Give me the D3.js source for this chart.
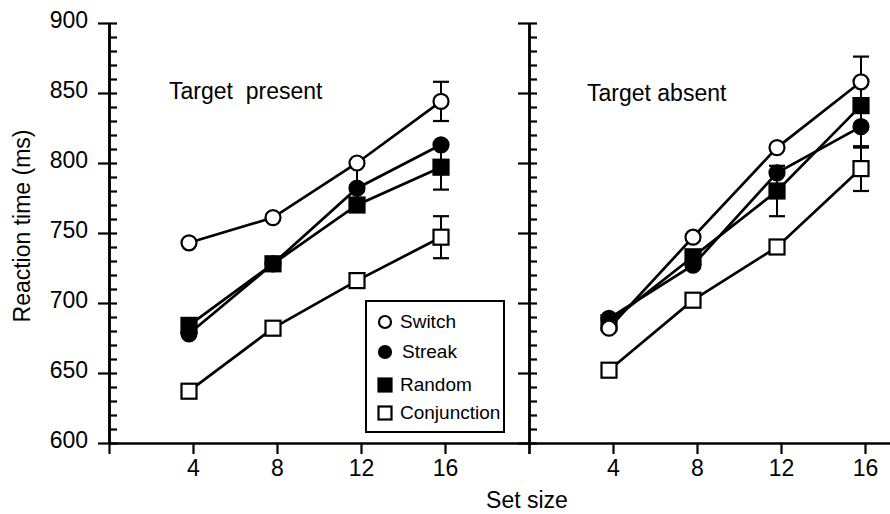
<!DOCTYPE html>
<html>
<head>
<meta charset="utf-8">
<script src="https://cdn.jsdelivr.net/npm/d3@7"></script>
<style>
  body { margin: 0; background: #fff; }
  svg { display: block; font-family: "Liberation Sans", Arial, Helvetica, sans-serif; }
</style>
</head>
<body>
<div id="chart"></div>
<script>
// data (ms)
const setSizes = [4, 8, 12, 16];
const seriesNames = ["Switch", "Streak", "Random", "Conjunction"];
const panelTitles = ["Target  present", "Target absent"];
const yTicks = [600, 650, 700, 750, 800, 850, 900];
const xTickLabels = ["4", "8", "12", "16"];

const presentSwitch = [743, 761, 800, 844];
const presentStreak = [678, 728, 782, 813];
const presentRandom = [684, 728, 770, 797];
const presentConj = [637, 682, 716, 747];

const absentSwitch = [682, 747, 811, 858];
const absentStreak = [689, 727, 793, 826];
const absentRandom = [686, 733, 780, 841];
const absentConj = [652, 702, 740, 796];

// error bars (null = not visible)
const presentSwitchErr = [null, null, null, 14];
const presentStreakErr = [null, null, 16, null];
const presentRandomErr = [null, null, null, 16];
const presentConjErr = [null, null, null, 15];

const absentSwitchErr = [null, null, null, 18];
const absentStreakErr = [null, null, null, 15];
const absentRandomErr = [null, null, 18, null];
const absentConjErr = [null, null, null, 16];

const width = 890, height = 514;
const fontSize = 23;

const svg = d3.select("#chart").append("svg")
    .attr("width", width)
    .attr("height", height);

const y = d3.scaleLinear().domain([600, 900]).range([443, 23]);
const xLeft = d3.scaleLinear().domain([0, 20]).range([109, 529]);
const xRight = d3.scaleLinear().domain([0, 20]).range([529, 949]);

const styles = {
    Switch: {shape: "circle", fill: "#fff"},
    Streak: {shape: "circle", fill: "#000"},
    Random: {shape: "square", fill: "#000"},
    Conjunction: {shape: "square", fill: "#fff"}
};

const panels = [
    {x: xLeft, title: panelTitles[0], tx: 169, ty: 99,
     values: [presentSwitch, presentStreak, presentRandom, presentConj],
     errs: [presentSwitchErr, presentStreakErr, presentRandomErr, presentConjErr]},
    {x: xRight, title: panelTitles[1], tx: 587, ty: 101,
     values: [absentSwitch, absentStreak, absentRandom, absentConj],
     errs: [absentSwitchErr, absentStreakErr, absentRandomErr, absentConjErr]}
];

const minorTicks = d3.range(600, 901, 10);

// y axes (left one with labels, middle one without)
[xLeft(0), xRight(0)].forEach((ax, i) => {
    let major = svg.append("g")
        .attr("transform", `translate(${ax},0)`)
        .call(d3.axisLeft(y).tickValues(yTicks).tickSize(11).tickSizeOuter(0).tickPadding(10));
    major.selectAll("text")
        .attr("font-size", fontSize)
        .attr("font-family", "Liberation Sans, Arial, sans-serif")
        .attr("dy", "0.18em")
        .attr("fill", "#000")
        .style("display", i === 0 ? null : "none");

    let minor = svg.append("g")
        .attr("transform", `translate(${ax},0)`)
        .call(d3.axisRight(y).tickValues(minorTicks).tickSize(8).tickSizeOuter(0).tickFormat(""));

    [major, minor].forEach(g => {
        g.selectAll("line").attr("stroke", "#000").attr("stroke-width", 2.2);
        g.select(".domain").attr("stroke", "#000").attr("stroke-width", 2.5);
    });
});

// x axes
panels.forEach(p => {
    let g = svg.append("g")
        .attr("transform", `translate(0,${y(600)})`)
        .call(d3.axisBottom(p.x).tickValues([0, 4, 8, 12, 16, 20])
            .tickSize(11).tickSizeOuter(0).tickPadding(6)
            .tickFormat(d => {
                let i = setSizes.indexOf(d);
                return i >= 0 ? xTickLabels[i] : "";
            }));
    g.selectAll("line").attr("stroke", "#000").attr("stroke-width", 2.2);
    g.select(".domain").attr("stroke", "#000").attr("stroke-width", 2.5);
    g.selectAll("text")
        .attr("font-size", fontSize)
        .attr("font-family", "Liberation Sans, Arial, sans-serif")
        .attr("fill", "#000");
});

function drawMarker(sel, name, cx, cy, size) {
    let st = styles[name];
    if (st.shape === "circle") {
        sel.append("circle")
            .attr("cx", cx).attr("cy", cy).attr("r", size / 2)
            .attr("fill", st.fill).attr("stroke", "#000").attr("stroke-width", 2.2);
    } else {
        sel.append("rect")
            .attr("x", cx - size / 2).attr("y", cy - size / 2)
            .attr("width", size).attr("height", size)
            .attr("fill", st.fill).attr("stroke", "#000").attr("stroke-width", 2.2);
    }
}

// plotted points sit a little left of the ticks in the original
const pointShift = -4;

panels.forEach(p => {
    let g = svg.append("g").attr("transform", `translate(${pointShift},0)`);

    let line = d3.line()
        .x((d, i) => p.x(setSizes[i]))
        .y(d => y(d));

    // lines
    p.values.forEach(vals => {
        g.append("path")
            .attr("d", line(vals))
            .attr("fill", "none")
            .attr("stroke", "#000")
            .attr("stroke-width", 2.7);
    });

    // error bars
    p.values.forEach((vals, s) => {
        vals.forEach((v, i) => {
            let e = p.errs[s][i];
            if (e == null) return;
            let cx = p.x(setSizes[i]);
            g.append("line")
                .attr("x1", cx).attr("x2", cx)
                .attr("y1", y(v - e)).attr("y2", y(v + e))
                .attr("stroke", "#000").attr("stroke-width", 2);
            [v - e, v + e].forEach(c => {
                g.append("line")
                    .attr("x1", cx - 8).attr("x2", cx + 8)
                    .attr("y1", y(c)).attr("y2", y(c))
                    .attr("stroke", "#000").attr("stroke-width", 2.2);
            });
        });
    });

    // markers: conjunction first, switch on top
    [3, 2, 1, 0].forEach(s => {
        p.values[s].forEach((v, i) => {
            drawMarker(g, seriesNames[s], p.x(setSizes[i]), y(v), 15);
        });
    });

    svg.append("text")
        .attr("x", p.tx).attr("y", p.ty)
        .attr("font-size", fontSize)
        .style("white-space", "pre")
        .text(p.title);
});

// legend
let legend = svg.append("g");
legend.append("rect")
    .attr("x", 366).attr("y", 301)
    .attr("width", 138).attr("height", 131)
    .attr("fill", "#fff").attr("stroke", "#000").attr("stroke-width", 2);

const legendRows = [322, 352, 385, 413];
seriesNames.forEach((name, i) => {
    drawMarker(legend, name, 385, legendRows[i], name === "Switch" || name === "Streak" ? 12 : 13);
    legend.append("text")
        .attr("x", name === "Streak" ? 402 : 400)
        .attr("y", legendRows[i] + 6)
        .attr("font-size", 19)
        .text(name);
});

// axis titles
svg.append("text")
    .attr("transform", "rotate(-90)")
    .attr("x", -226).attr("y", 30)
    .attr("text-anchor", "middle")
    .attr("font-size", fontSize)
    .text("Reaction time (ms)");

svg.append("text")
    .attr("x", 527).attr("y", 508)
    .attr("text-anchor", "middle")
    .attr("font-size", fontSize)
    .text("Set size");
</script>
</body>
</html>
